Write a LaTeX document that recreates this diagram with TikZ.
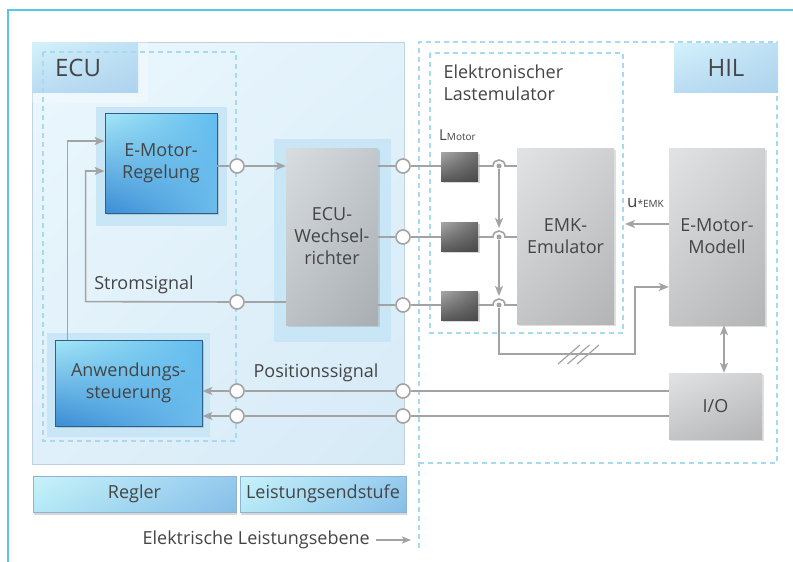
\documentclass[tikz,border=0pt]{standalone}
\usepackage{fontspec}
\setmainfont{Open Sans}
\usetikzlibrary{arrows.meta,shadows,calc,shadings}
\definecolor{frameblue}{HTML}{5BC3EC}
\definecolor{dashblue}{HTML}{A5DAF2}
\definecolor{linegray}{HTML}{A3A3A3}
\definecolor{txt}{HTML}{454545}
\definecolor{ecuborder}{HTML}{BDD3E2}
\definecolor{halo}{HTML}{C9E6F6}
\definecolor{bluedark}{HTML}{2F5F86}
\definecolor{bUL}{HTML}{A4E6F7}\definecolor{bUR}{HTML}{62BDEE}\definecolor{bLL}{HTML}{3A8CD5}\definecolor{bLR}{HTML}{6DBCEC}
\definecolor{gUL}{HTML}{E2E3E4}\definecolor{gUR}{HTML}{CFD0D1}\definecolor{gLL}{HTML}{C4C5C6}\definecolor{gLR}{HTML}{B3B4B5}
\definecolor{wUL}{HTML}{D8DDE0}\definecolor{wUR}{HTML}{C3C8CC}\definecolor{wLL}{HTML}{BCC1C5}\definecolor{wLR}{HTML}{A9AEB2}
\definecolor{iUL}{HTML}{A8A8A8}\definecolor{iUR}{HTML}{6E6E6E}\definecolor{iLL}{HTML}{5A5A5A}\definecolor{iLR}{HTML}{4A4A4A}
\definecolor{lUL}{HTML}{D4F2FB}\definecolor{lUR}{HTML}{BFE0F4}\definecolor{lLL}{HTML}{BADCF2}\definecolor{lLR}{HTML}{AED3EE}
\definecolor{fUL}{HTML}{C8F2FA}\definecolor{fUR}{HTML}{96CBEE}\definecolor{fLL}{HTML}{B4E8F6}\definecolor{fLR}{HTML}{86BEE8}
\definecolor{fborder}{HTML}{8FB4D2}
\definecolor{eUL}{HTML}{EBF7FD}\definecolor{eUR}{HTML}{E2F2FB}\definecolor{eLL}{HTML}{E0F0FA}\definecolor{eLR}{HTML}{D6EAF6}
\begin{document}
\begin{tikzpicture}[x=1pt,y=-1pt,
  every node/.style={text=txt},
  mainfont/.style={font=\fontsize{18}{22}\selectfont},
  bigfont/.style={font=\fontsize{24}{28}\selectfont},
  wire/.style={draw=linegray, line width=1.6pt},
  arr/.style={wire, -{Stealth[length=10pt,width=8pt,inset=2.5pt]}},
  darr/.style={wire, {Stealth[length=10pt,width=8pt,inset=2.5pt]}-{Stealth[length=10pt,width=8pt,inset=2.5pt]}},
  dashline/.style={draw=dashblue, line width=1.8pt, dash pattern=on 5pt off 4pt},
  rect/.style={rectangle, inner sep=0pt, align=center, mainfont},
  bluebox/.style={rect, draw=bluedark, line width=0.8pt,
    upper left=bUL, upper right=bUR, lower left=bLL, lower right=bLR,
    drop shadow={shadow xshift=2pt,shadow yshift=-2pt,opacity=.3}},
  graybox/.style={rect,
    upper left=gUL, upper right=gUR, lower left=gLL, lower right=gLR,
    drop shadow={shadow xshift=2pt,shadow yshift=-2pt,opacity=.25}},
  wrbox/.style={rect,
    upper left=wUL, upper right=wUR, lower left=wLL, lower right=wLR,
    drop shadow={shadow xshift=2pt,shadow yshift=-2pt,opacity=.25}},
  indbox/.style={rect, minimum width=37pt, minimum height=29pt,
    upper left=iUL, upper right=iUR, lower left=iLL, lower right=iLR,
    drop shadow={shadow xshift=1.5pt,shadow yshift=-2pt,opacity=.3}},
  labelbox/.style={rect, upper left=lUL, upper right=lUR, lower left=lLL, lower right=lLR},
  footbox/.style={rect, draw=fborder, line width=0.6pt,
    upper left=fUL, upper right=fUR, lower left=fLL, lower right=fLR,
    drop shadow={shadow xshift=1pt,shadow yshift=-3pt,opacity=.3}},
  port/.style={circle, draw=linegray, line width=1.6pt, fill=white, minimum size=14pt, inner sep=0pt},
  dot/.style={circle, fill=linegray, minimum size=5pt, inner sep=0pt},
]
\useasboundingbox[fill=white] (0,0) rectangle (793,562);
% outer frame
\draw[frameblue, line width=2pt] (8,562) -- (8,10) -- (793,10);

% ECU area
\node[rect, draw=ecuborder, line width=1pt, upper left=eUL, upper right=eUR, lower left=eLL, lower right=eLR,
  minimum width=372pt, minimum height=422pt, anchor=north west] (ecuarea) at (32,42) {};
\fill[white, opacity=.25] (32,42) rectangle (148,103);
\node[labelbox, minimum width=106pt, minimum height=50pt, anchor=north west] (ecul) at (32,42) {};
\node[bigfont, anchor=center] (ecut) at (78,68) {ECU};
\draw[dashline] (43,52) rectangle (236,441);

% HIL area
\draw[dashline] (419,548) -- (419,42) -- (777,42) -- (777,463) -- (419,463);
\node[labelbox, minimum width=104pt, minimum height=49pt, anchor=north west] (hill) at (674,43) {};
\node[bigfont] (hilt) at (726,68) {HIL};
\draw[dashline] (430,53) rectangle (623,333);
\node[mainfont, align=left, anchor=north west] (last) at (440,61) {Elektronischer\\Lastemulator};

% halos
\fill[halo] (96,107) rectangle (227,226);
\fill[halo] (274,139) rectangle (391,342);
\fill[halo] (47,333) rectangle (210,437);

% main boxes
\node[bluebox, minimum width=112pt, minimum height=100pt] (emr) at (161,163) {E-Motor-\\Regelung};
\node[wrbox, minimum width=92pt, minimum height=177pt] (wr) at (332,236.5) {ECU-\\Wechsel-\\richter};
\node[bluebox, minimum width=147pt, minimum height=86pt] (as) at (128.5,383) {Anwendungs-\\steuerung};
\node[graybox, minimum width=97pt, minimum height=176pt] (emk) at (565.5,236) {EMK-\\Emulator};
\node[graybox, minimum width=96pt, minimum height=177pt] (mod) at (717,236.5) {E-Motor-\\Modell};
\node[graybox, minimum width=93pt, minimum height=66pt] (io) at (715.5,406) {I/O};

% inductors
\node[indbox] (l1) at (459.5,166.5) {};
\node[indbox] (l2) at (459.5,236.5) {};
\node[indbox] (l3) at (459.5,305.5) {};
\node[anchor=base west, inner sep=0pt, font=\fontsize{15}{15}\selectfont] (lm) at (439,140) {L{\fontsize{10}{10}\selectfont Motor}};

% ports
\node[port] (c1) at (237,166) {};
\node[port] (c2) at (237,302) {};
\node[port] (c3) at (403,166) {};
\node[port] (c4) at (403,237) {};
\node[port] (c5) at (403,305) {};
\node[port] (c6) at (237,391) {};
\node[port] (c7) at (403,391) {};
\node[port] (c8) at (237,416) {};
\node[port] (c9) at (403,416) {};

% junctions
\node[dot] (j1) at (499,166) {};
\node[dot] (j2) at (499,237) {};
\node[dot] (j3) at (499,305) {};

% wires ECU
\draw[wire] (c1 -| emr.east) -- (c1);
\draw[arr] (c1) -- (c1 -| wr.west);
\draw[wire] (c2 -| wr.west) -- (c2);
\draw[arr] (c2) -- ($(as.north west)+(31,-38)$) |- ($(emr.west)+(0,8)$);
\draw[arr] ($(as.north west)+(13,0)$) |- ($(emr.west)+(0,-22)$);
\node[mainfont] (strom) at (144,285) {Stromsignal};

\draw[wire] (c3 -| wr.east) -- (c3);
\draw[wire] (c4 -| wr.east) -- (c4);
\draw[wire] (c5 -| wr.east) -- (c5);
\draw[wire] (c3) -- (c3 -| l1.west);
\draw[wire] (c4) -- (c4 -| l2.west);
\draw[wire] (c5) -- (c5 -| l3.west);

% hops into EMK
\foreach \j/\l in {j1/l1, j2/l2, j3/l3}{
  \draw[wire] (\j -| \l.east) -- ($(\j)+(-6,0)$) .. controls ($(\j)+(-6,-8)$) and ($(\j)+(6,-8)$) .. ($(\j)+(6,0)$) -- (\j -| emk.west);
}
\draw[arr] (j1) -- ($(j2)+(0,-9)$);
\draw[arr] (j2) -- ($(j3)+(0,-9)$);
\draw[arr] (j3) -- (499,354) -- (635,354) |- ($(mod.west)+(0,50.5)$);
\foreach \dx in {0,9.5,19}{
  \draw[linegray, line width=1.2pt] (558+\dx,364) -- (580+\dx,345);
}

% HIL wires
\draw[arr] (mod.west |- 0,224) -- (625,224);
\node[anchor=base west, inner sep=0pt, font=\fontsize{17}{17}\selectfont] (ue) at (627,207) {u{\fontsize{10}{10}\selectfont *EMK}};
\draw[darr] ($(mod.south)+(7,0)$) -- ($(io.north)+(8.5,0)$);

\draw[wire] (io.west |- c7) -- (c7);
\draw[wire] (c7) -- (c6);
\draw[arr] (c6) -- (c6 -| as.east);
\draw[wire] (io.west |- c9) -- (c9);
\draw[wire] (c9) -- (c8);
\draw[arr] (c8) -- (c8 -| as.east);
\node[mainfont] (pos) at (316,373) {Positionssignal};

% footer
\node[footbox, minimum width=203pt, minimum height=36pt] (regler) at (134.5,494) {Regler};
\node[footbox, minimum width=166pt, minimum height=36pt] (leist) at (323,494) {Leistungsendstufe};
\node[mainfont, anchor=east, inner sep=0pt] (ebene) at (370,540) {Elektrische Leistungsebene};
\coordinate (ebeneend) at (411,540);
\draw[wire, -{Stealth[length=9pt,width=7pt,inset=2pt]}, line width=1.2pt] ($(ebene.east)+(6,0)$) -- (ebeneend);
\end{tikzpicture}
\end{document}
